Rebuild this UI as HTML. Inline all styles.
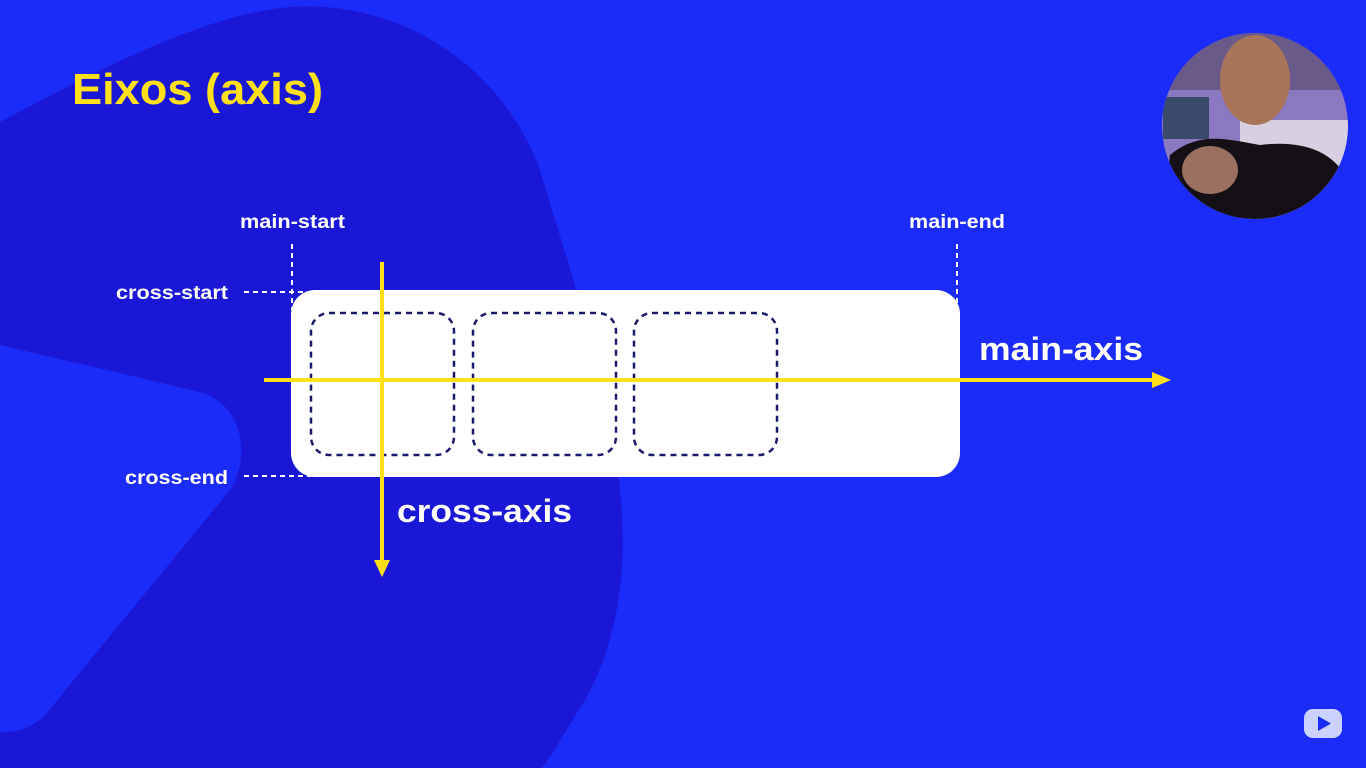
<!DOCTYPE html>
<html><head><meta charset="utf-8"><style>
html,body{margin:0;padding:0;width:1366px;height:768px;overflow:hidden;background:#1c2cf8}
svg{display:block}
text{font-family:"Liberation Sans",sans-serif;font-weight:bold}
</style></head><body>
<svg width="1366" height="768" viewBox="0 0 1366 768">
<path fill="#1a18d6" d="M0,122 C90,75 190,20 280,8 C390,-5 500,60 540,170 C560,240 590,320 610,430 C630,520 630,620 585,700 C560,740 545,768 540,768 L0,768 Z"/>
<path fill="#1c2cf8" d="M0,345 L200,392 C245,405 250,460 230,490 L45,715 C30,730 15,732 0,732 Z"/>
<text x="72" y="104" font-size="44" fill="#ffe01a" textLength="251" lengthAdjust="spacingAndGlyphs">Eixos (axis)</text>

<text x="240" y="228" font-size="19" fill="#fff" textLength="105" lengthAdjust="spacingAndGlyphs">main-start</text>
<text x="909" y="228" font-size="19" fill="#fff" textLength="96" lengthAdjust="spacingAndGlyphs">main-end</text>
<text x="116" y="299" font-size="19" fill="#fff" textLength="112" lengthAdjust="spacingAndGlyphs">cross-start</text>
<text x="125" y="484" font-size="19" fill="#fff" textLength="103" lengthAdjust="spacingAndGlyphs">cross-end</text>

<g stroke="#fff" stroke-width="2" stroke-dasharray="5,4" fill="none">
<line x1="292" y1="244" x2="292" y2="310"/>
<line x1="957" y1="244" x2="957" y2="305"/>
<line x1="244" y1="292" x2="320" y2="292"/>
<line x1="244" y1="476" x2="320" y2="476"/>
</g>

<rect x="291" y="290" width="669" height="187" rx="24" fill="#fff"/>
<g fill="none" stroke="#1a1a6a" stroke-width="2.5" stroke-dasharray="6,5">
<rect x="311" y="313" width="143" height="142" rx="18"/>
<rect x="473" y="313" width="143" height="142" rx="18"/>
<rect x="634" y="313" width="143" height="142" rx="18"/>
</g>

<g>
<line x1="264" y1="380" x2="1155" y2="380" stroke="#ffe01a" stroke-width="4"/>
<polygon points="1152,372 1171,380 1152,388" fill="#ffe01a"/>
</g>
<g>
<line x1="382" y1="262" x2="382" y2="562" stroke="#ffe01a" stroke-width="4"/>
<polygon points="374,560 382,577 390,560" fill="#ffe01a"/>
</g>
<text x="979" y="360" font-size="32" fill="#fff" textLength="164" lengthAdjust="spacingAndGlyphs">main-axis</text>
<text x="397" y="522" font-size="32" fill="#fff" textLength="175" lengthAdjust="spacingAndGlyphs">cross-axis</text>

<defs><clipPath id="cc"><circle cx="1255" cy="126" r="93"/></clipPath></defs>
<g clip-path="url(#cc)">
<rect x="1160" y="30" width="190" height="200" fill="#8a78c0"/>
<rect x="1160" y="30" width="190" height="60" fill="#6a5a8a"/>
<rect x="1163" y="97" width="46" height="42" fill="#3a4a6a"/>
<rect x="1240" y="120" width="110" height="120" fill="#d8d0e0"/>
<ellipse cx="1255" cy="80" rx="35" ry="45" fill="#a8745a"/>
<path d="M1160,240 L1170,155 C1200,130 1230,140 1260,145 C1300,140 1330,150 1345,175 L1350,240 Z" fill="#151015"/>
<ellipse cx="1210" cy="170" rx="28" ry="24" fill="#9a7060"/>
</g>

<g>
<rect x="1304" y="709" width="38" height="29" rx="9" fill="#dfe4ff" opacity="0.9"/>
<polygon points="1318,716 1318,731 1331,723.5" fill="#1c2cf8"/>
</g>
</svg>
</body></html>
